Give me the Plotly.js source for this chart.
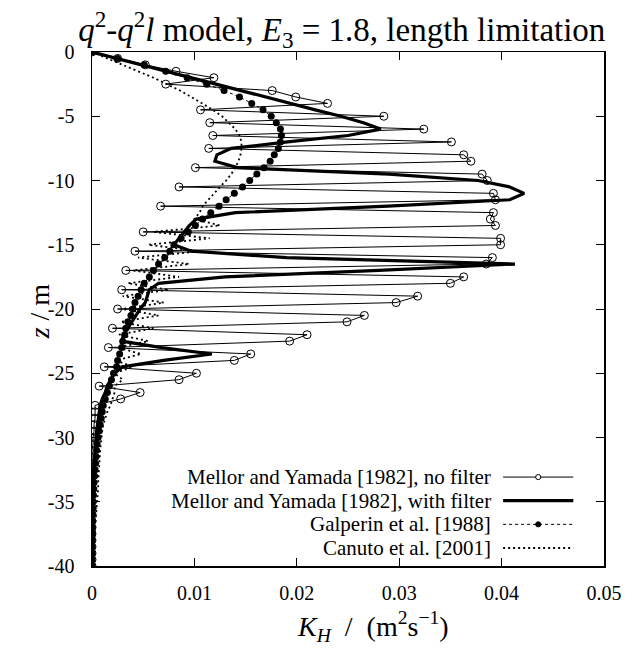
<!DOCTYPE html>
<html>
<head>
<meta charset="utf-8">
<script src="https://cdn.plot.ly/plotly-3.0.1.min.js"></script>
<style>html,body{margin:0;padding:0;background:#fff;}#chart{width:633px;height:657px;}</style>
</head>
<body>
<div id="chart"></div>
<script>
// depth grid (m)
const depth = [0,-0.5,-1,-1.5,-2,-2.5,-3,-3.5,-4,-4.5,-5,-5.5,-6,-6.5,-7,-7.5,-8,-8.5,-9,-9.5,
  -10,-10.5,-11,-11.5,-12,-12.5,-13,-13.5,-14,-14.5,-15,-15.5,-16,-16.5,-17,-17.5,-18,-18.5,-19,-19.5,
  -20,-20.5,-21,-21.5,-22,-22.5,-23,-23.5,-24,-24.5,-25,-25.5,-26,-26.5,-27,-27.5,-28,-28.5,-29,-29.5,
  -30,-30.5,-31,-31.5,-32,-32.5,-33,-33.5,-34,-34.5,-35,-35.5,-36,-36.5,-37,-37.5,-38,-38.5,-39,-39.5,-40];

// Mellor and Yamada [1982], no filter
const myNoFilter = [0,0.0025,0.0052,0.0082,0.0119,0.0072,0.0176,0.0199,0.0230,0.0106,
  0.0285,0.0115,0.0324,0.0118,0.0351,0.0114,0.0363,0.0370,0.0101,0.0381,
  0.0386,0.0085,0.0392,0.0394,0.0067,0.0392,0.0389,0.0394,0.0050,0.0399,
  0.0399,0.0042,0.0391,0.0385,0.0033,0.0363,0.0350,0.0029,0.0318,0.0297,
  0.0025,0.0266,0.0249,0.0020,0.0210,0.0193,0.0016,0.0155,0.0139,0.0012,
  0.0102,0.0085,0.0007,0.0047,0.0028,0.0003,0.0003,0.0003,0.0002,0.0002,
  0.0001,0.0001,0,0,0,0,0,0,0,0,
  0,0,0,0,0,0,0,0,0,0,0];

// Mellor and Yamada [1982], with filter
const myFilter = [0,0.0024,0.0048,0.0072,0.0096,0.0120,0.0144,0.0168,0.0193,0.0218,
  0.0243,0.0265,0.0282,0.0250,0.0191,0.0136,0.0122,0.0120,0.0142,0.0290,
  0.0377,0.0408,0.0422,0.0408,0.0289,0.0140,0.0102,0.0095,0.0090,0.0085,
  0.0080,0.0097,0.0190,0.0413,0.0280,0.0130,0.0065,0.0056,0.0054,0.0052,
  0.0047,0.0043,0.0039,0.0035,0.0031,0.0029,0.0068,0.0117,0.0070,0.0030,
  0.0022,0.0018,0.0015,0.0013,0.0010,0.0008,0.0007,0.0006,0.0005,0.00045,
  0.0004,0.00035,0.0003,0.00027,0.00024,0.0002,0.00018,0.00016,0.00014,0.00012,
  0.0001,0.00009,0.00008,0.00007,0.00006,0.00005,0.00004,0.00003,0.00002,0.00001,0];

// Galperin et al. [1988]
const galperin = [0,0.0025,0.0051,0.0072,0.0093,0.0112,0.0129,0.0144,0.0156,0.0167,
  0.0175,0.0180,0.0184,0.0185,0.0184,0.0182,0.0178,0.0174,0.0168,0.0161,
  0.0154,0.0147,0.0139,0.0131,0.0124,0.0116,0.0108,0.0101,0.0094,0.0087,
  0.0080,0.0076,0.0071,0.0065,0.0060,0.0056,0.0051,0.0048,0.0045,0.0042,
  0.0040,0.0038,0.0035,0.0033,0.0032,0.0030,0.0029,0.0027,0.0025,0.0024,
  0.0021,0.0019,0.0017,0.0015,0.0013,0.0011,0.0010,0.0009,0.0008,0.0007,
  0.0006,0.0005,0.00045,0.0004,0.00035,0.0003,0.00025,0.0002,0.00017,0.00014,
  0.00012,0.0001,0.00008,0.00006,0.00005,0.00004,0.00003,0.00002,0.00002,0.00001,0.00001];

// Canuto et al. [2001]
const canuto = [0,0.0015,0.0030,0.0045,0.0060,0.0073,0.0086,0.0097,0.0108,0.0118,
  0.0127,0.0134,0.0140,0.0144,0.0146,0.0146,0.0145,0.0143,0.0140,0.0136,
  0.0131,0.0125,0.0119,0.0113,0.0108,0.0105,0.0100,0.0125,0.0060,0.0115,
  0.0055,0.0105,0.0045,0.0095,0.0040,0.0085,0.0035,0.0075,0.0030,0.0070,
  0.0030,0.0065,0.0028,0.0060,0.0026,0.0055,0.0025,0.0048,0.0023,0.0040,
  0.0022,0.0030,0.0022,0.0022,0.0020,0.0018,0.0015,0.0013,0.0011,0.0010,
  0.0009,0.00085,0.0008,0.00075,0.0007,0.00065,0.0006,0.0006,0.0006,0.00055,
  0.0005,0.00045,0.0004,0.00035,0.0003,0.00025,0.0002,0.00015,0.0001,0.00005,0];

const seriesNames = ['Mellor and Yamada [1982], no filter','Mellor and Yamada [1982], with filter',
  'Galperin et al. [1988]','Canuto et al. [2001]'];
const xTickVals = [0,0.01,0.02,0.03,0.04,0.05];
const xTickText = ['0','0.01','0.02','0.03','0.04','0.05'];
const yTickVals = [0,-5,-10,-15,-20,-25,-30,-35,-40];
const yTickText = ['0','-5','-10','-15','-20','-25','-30','-35','-40'];

const serif = '"Liberation Serif", "Times New Roman", serif';

const traces = [
  {x: myNoFilter, y: depth, mode:'lines+markers', name: seriesNames[0],
   line:{color:'#000', width:1},
   marker:{symbol:'circle-open', size:8, color:'#000', line:{width:1, color:'#000'}}},
  {x: myFilter, y: depth, mode:'lines', name: seriesNames[1],
   line:{color:'#000', width:3.2}},
  {x: galperin, y: depth, mode:'lines+markers', name: seriesNames[2],
   line:{color:'#000', width:1, dash:'3px,3px'},
   marker:{symbol:'circle', size:7, color:'#000'}},
  {x: canuto, y: depth, mode:'lines', name: seriesNames[3],
   line:{color:'#000', width:1.8, dash:'2px,3px'}}
];

// legend drawn gnuplot-style: right-aligned text, sample to the right
const legRowsY = [0.173, 0.127, 0.081, 0.035];
const annotations = [];
const shapes = [];
seriesNames.forEach((n, i) => {
  annotations.push({xref:'paper', yref:'paper', x:0.783, y:legRowsY[i], text:n, showarrow:false,
    xanchor:'right', yanchor:'middle', font:{family:serif, size:21, color:'#000'}});
});
// axis titles placed as in the reference
annotations.push({xref:'paper', yref:'paper', x:0.548, y:-0.118, xanchor:'center', yanchor:'middle', showarrow:false,
  text:'<i>K</i><sub><i>H</i></sub>&nbsp;&nbsp;/&nbsp;&nbsp;(m<sup>2</sup>s<sup>−1</sup>)', font:{family:serif, size:28, color:'#000'}});
annotations.push({xref:'paper', yref:'paper', x:-0.102, y:0.495, xanchor:'center', yanchor:'middle', showarrow:false,
  textangle:-90, text:'<i>z</i>&nbsp;/&nbsp;m', font:{family:serif, size:28, color:'#000'}});

const lx0 = 0.803, lx1 = 0.940;
shapes.push({type:'line', xref:'paper', yref:'paper', x0:lx0, x1:lx1, y0:legRowsY[0], y1:legRowsY[0], line:{color:'#000', width:1}});
shapes.push({type:'circle', xref:'paper', yref:'paper', x0:(lx0+lx1)/2-0.005, x1:(lx0+lx1)/2+0.005,
  y0:legRowsY[0]-0.005, y1:legRowsY[0]+0.005, fillcolor:'#fff', line:{color:'#000', width:1}});
shapes.push({type:'line', xref:'paper', yref:'paper', x0:lx0, x1:lx1, y0:legRowsY[1], y1:legRowsY[1], line:{color:'#000', width:3.2}});
shapes.push({type:'line', xref:'paper', yref:'paper', x0:lx0, x1:lx1, y0:legRowsY[2], y1:legRowsY[2], line:{color:'#000', width:1, dash:'3px,3px'}});
shapes.push({type:'circle', xref:'paper', yref:'paper', x0:(lx0+lx1)/2-0.005, x1:(lx0+lx1)/2+0.005,
  y0:legRowsY[2]-0.005, y1:legRowsY[2]+0.005, fillcolor:'#000', line:{color:'#000', width:1}});
shapes.push({type:'line', xref:'paper', yref:'paper', x0:lx0, x1:lx1, y0:legRowsY[3], y1:legRowsY[3], line:{color:'#000', width:1.8, dash:'2px,3px'}});

const layout = {
  width:633, height:657,
  margin:{l:92, r:29, t:52, b:91},
  paper_bgcolor:'#fff', plot_bgcolor:'#fff',
  showlegend:false,
  font:{family:serif, color:'#000'},
  title:{text:'<i>q</i><sup>2</sup>-<i>q</i><sup>2</sup><i>l</i> model, <i>E</i><sub>3</sub> = 1.8, length limitation',
    font:{family:serif, size:33, color:'#000'}, x:0.54, xanchor:'center', y:0.955, yanchor:'middle'},
  xaxis:{range:[0,0.05], tickvals:xTickVals, ticktext:xTickText, ticks:'inside', ticklen:8,
    tickcolor:'#000', mirror:'ticks', showline:true, linecolor:'#000', linewidth:1.5,
    showgrid:false, zeroline:false, tickfont:{family:serif, size:20, color:'#000'}, ticklabelstandoff:8},
  yaxis:{range:[-40,0], tickvals:yTickVals, ticktext:yTickText, ticks:'inside', ticklen:8,
    tickcolor:'#000', mirror:'ticks', showline:true, linecolor:'#000', linewidth:1.5,
    showgrid:false, zeroline:false, tickfont:{family:serif, size:20, color:'#000'}, ticklabelstandoff:12},
  annotations: annotations,
  shapes: shapes
};

Plotly.newPlot('chart', traces, layout, {displayModeBar:false, staticPlot:true});
</script>
</body>
</html>
